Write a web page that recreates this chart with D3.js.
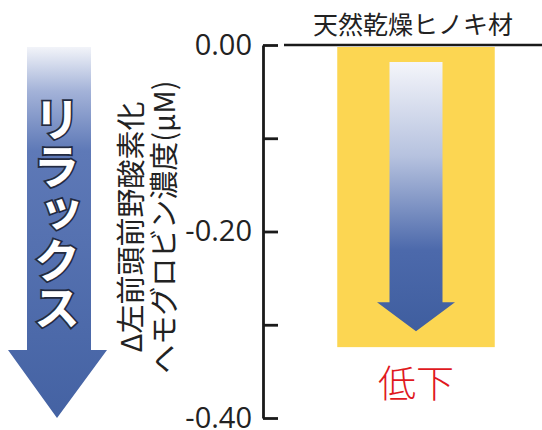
<!DOCTYPE html>
<html>
<head>
<meta charset="utf-8">
<script src="https://cdn.jsdelivr.net/npm/d3@7"></script>
<style>
  body { margin: 0; background: #fff; }
  svg { display: block; }
</style>
</head>
<body>
<div id="chart"></div>
<script>
// data
const categories = ["天然乾燥ヒノキ材"];
const values = [-0.324];
const tickValues = [0, -0.1, -0.2, -0.3, -0.4];
const labelledTicks = [0, -0.2, -0.4];
const yLabelLines = ["Δ左前頭前野酸素化", "ヘモグロビン濃度(μM)"];
const sideLabel = "リラックス";
const resultLabel = "低下";

const width = 542, height = 430;
const svg = d3.select("#chart").append("svg")
  .attr("width", width).attr("height", height);

const defs = svg.append("defs");
const grad1 = defs.append("linearGradient").attr("id", "gBig")
  .attr("x1", 0).attr("y1", 0).attr("x2", 0).attr("y2", 1);
grad1.append("stop").attr("offset", "0%").attr("stop-color", "#f2f4f9");
grad1.append("stop").attr("offset", "12%").attr("stop-color", "#a3b2d8");
grad1.append("stop").attr("offset", "28%").attr("stop-color", "#5e79b7");
grad1.append("stop").attr("offset", "100%").attr("stop-color", "#4462a3");

const grad2 = defs.append("linearGradient").attr("id", "gSmall")
  .attr("x1", 0).attr("y1", 0).attr("x2", 0).attr("y2", 1);
grad2.append("stop").attr("offset", "0%").attr("stop-color", "#f4f5fa");
grad2.append("stop").attr("offset", "35%").attr("stop-color", "#b6c2df");
grad2.append("stop").attr("offset", "70%").attr("stop-color", "#4c69ab");
grad2.append("stop").attr("offset", "100%").attr("stop-color", "#3f5e9f");

// scales
const y = d3.scaleLinear().domain([0, -0.4]).range([45, 418]);
const x = d3.scaleBand().domain(categories).range([290, 542]).paddingOuter(0.3);

// bar
svg.append("g").selectAll("rect")
  .data(values)
  .join("rect")
    .attr("x", (d, i) => x(categories[i]))
    .attr("width", x.bandwidth())
    .attr("y", y(0) + 2)
    .attr("height", d => y(d) - y(0) - 2)
    .attr("fill", "#fcd652");

// arrow inside the bar
svg.append("g").selectAll("path")
  .data(values)
  .join("path")
    .attr("d", (d, i) => {
      const cx = x(categories[i]) + x.bandwidth() / 2;
      const top = y(0) + 17, tip = y(d) - 16, neck = tip - 29;
      const sw = 26.5, hw = 39;
      return `M${cx - sw},${top}H${cx + sw}V${neck}H${cx + hw}L${cx},${tip}L${cx - hw},${neck}H${cx - sw}Z`;
    })
    .attr("fill", "url(#gSmall)");

// category title and the top line
svg.append("g").selectAll("text")
  .data(categories)
  .join("text")
    .attr("x", d => x(d) + x.bandwidth() / 2 - 3)
    .attr("y", 34)
    .attr("text-anchor", "middle")
    .style("font-family", "'Noto Sans CJK JP'")
    .style("font-size", "25px")
    .attr("fill", "#222")
    .text(d => d);

svg.append("line")
  .attr("x1", 284).attr("x2", width)
  .attr("y1", y(0)).attr("y2", y(0))
  .attr("stroke", "#1a1a1a").attr("stroke-width", 2.5);

// y axis, ticks pointing into the plot
const fmt = d => d === 0 ? "0.00" : "-" + Math.abs(d).toFixed(2);
const yAxis = d3.axisLeft(y)
  .tickValues(tickValues)
  .tickSizeInner(-15).tickSizeOuter(0).tickPadding(11)
  .tickFormat(d => labelledTicks.includes(d) ? fmt(d) : "");

const gy = svg.append("g")
  .attr("transform", "translate(263,0)")
  .call(yAxis);
gy.selectAll("path, line").style("stroke", "#1a1a1a").style("stroke-width", "2.8px");
gy.selectAll("text")
  .style("font-family", "'Open Sans'")
  .style("font-size", "29px")
  .attr("fill", "#222");

// y axis title, two rotated lines
svg.append("g").selectAll("text")
  .data(yLabelLines)
  .join("text")
    .attr("transform", (d, i) => `translate(${142 + i * 33},227) rotate(-90)`)
    .attr("text-anchor", "middle")
    .style("font-family", "'Noto Sans CJK JP'")
    .style("font-size", "29px")
    .attr("fill", "#222")
    .text(d => d);

// big relax arrow on the left
svg.append("path")
  .attr("d", "M27,47H91V350H107L57,418L8,350H27Z")
  .attr("fill", "url(#gBig)");

svg.append("text")
  .attr("x", 57).attr("y", 213)
  .attr("text-anchor", "middle")
  .style("writing-mode", "vertical-rl")
  .style("font-family", "'Noto Sans CJK JP'")
  .style("font-size", "47px")
  .style("font-weight", "bold")
  .attr("fill", "#fff")
  .attr("stroke", "#222a40")
  .attr("stroke-width", 3.5)
  .attr("paint-order", "stroke")
  .text(sideLabel);

// result label under the bar
svg.append("text")
  .attr("x", x(categories[0]) + x.bandwidth() / 2)
  .attr("y", 397)
  .attr("text-anchor", "middle")
  .style("font-family", "'Noto Sans CJK JP'")
  .style("font-size", "38px")
  .style("font-weight", 300)
  .attr("fill", "#e0191e")
  .text(resultLabel);
</script>
</body>
</html>
